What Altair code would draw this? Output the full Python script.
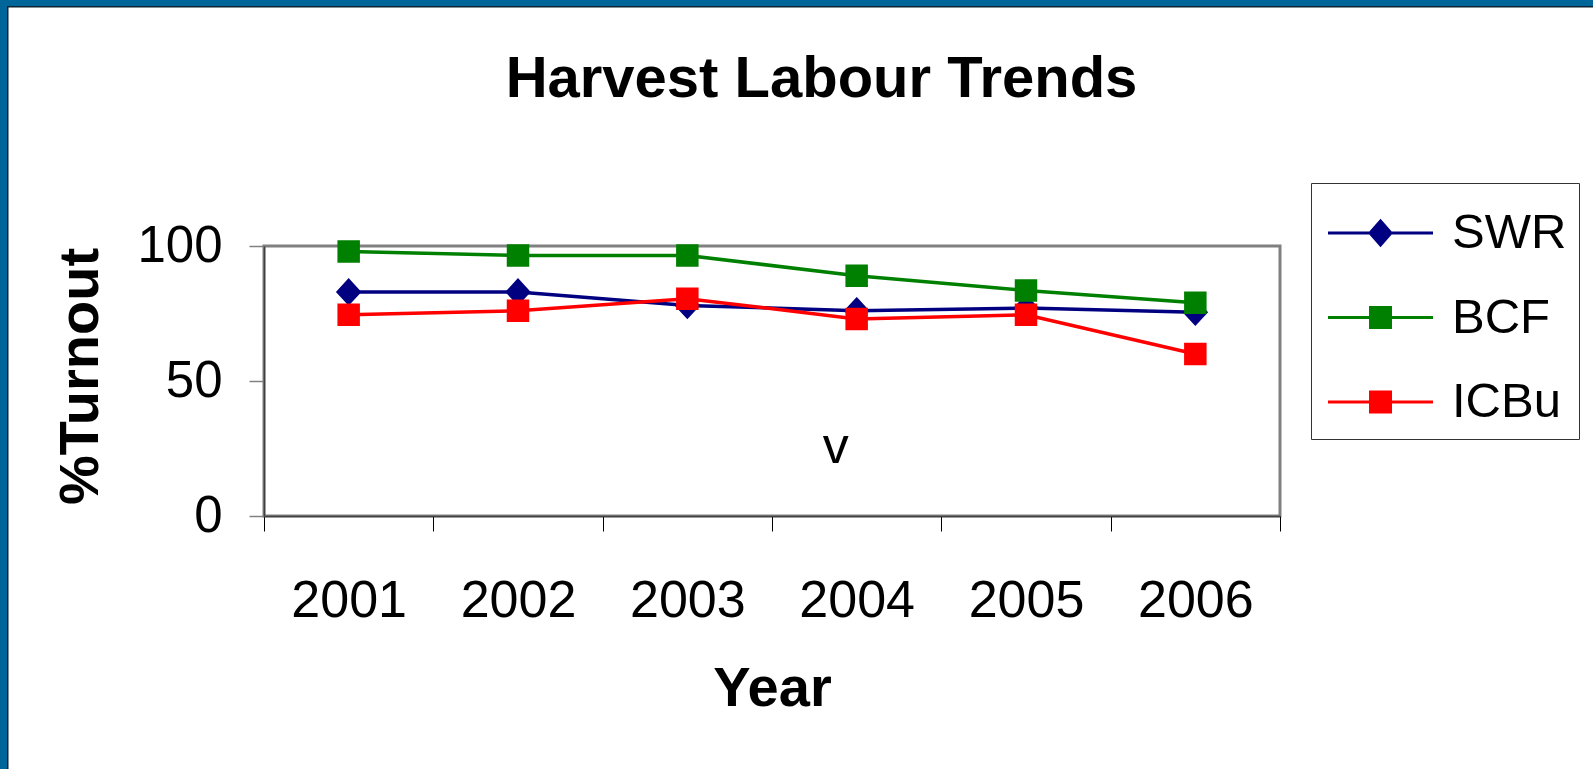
import altair as alt
import pandas as pd

# ---- data ----
years = ["2001", "2002", "2003", "2004", "2005", "2006"]
series = ["SWR", "BCF", "ICBu"]
swr = [83, 83, 78, 76, 77, 75.5]
bcf = [98, 96.5, 96.5, 89, 83.5, 79]
icbu = [74.5, 76, 80.5, 73, 74.5, 60]
colors = ["#000080", "#008000", "#FF0000"]
y_ticks = [0, 50, 100]
note_text = ["v"]
note_year = ["2004"]
note_value = [19.6]

rows = []
for s, vals in zip(series, [swr, bcf, icbu]):
    for yr, v in zip(years, vals):
        rows.append({"Year": yr, "Series": s, "Turnout": v})
df = pd.DataFrame(rows)
note_df = pd.DataFrame({"Year": note_year, "Turnout": note_value, "label": note_text})

# ---- layout ----
TOTAL_W, TOTAL_H = 1593, 769
PL, PT = 264, 246
W, H = 1016, 270
PR, PB = TOTAL_W - PL - W, TOTAL_H - PT - H
FONT = "Liberation Sans"

# marker shapes in plot
diamond_path = "M0,-1.2L1.1,0L0,1.2L-1.1,0Z"

# legend symbols: line + marker (unit coords scaled by sqrt(size)/2 = 30 px)
leg_line = "M-0.883,0H2.617"
leg_diamond = leg_line + "M0.867,-0.4L1.217,0L0.867,0.4L0.517,0Z"
leg_square = leg_line + "M0.534,-0.333H1.2V0.333H0.534Z"
legend_shapes = [leg_diamond, leg_square, leg_square]


def cond_expr(values):
    expr = f"'{values[-1]}'"
    for s, v in reversed(list(zip(series[:-1], values[:-1]))):
        expr = f"datum.value === '{s}' ? '{v}' : {expr}"
    return expr


legend = alt.Legend(
    title=" ",
    titleFontSize=1,
    titlePadding=5.5,
    orient="none",
    legendX=1311 - PL,
    legendY=183 - PT,
    padding=12,
    strokeColor="#333333",
    fillColor="white",
    symbolSize=3600,
    symbolType=alt.ExprRef(cond_expr(legend_shapes)),
    symbolStrokeWidth=3,
    symbolOpacity=1,
    labelFont=FONT,
    labelFontSize=49,
    labelColor="black",
    labelOffset=66,
    rowPadding=27.5,
)

scale_c = alt.Scale(domain=series, range=colors)

x_enc = alt.X(
    "Year:O",
    scale=alt.Scale(type="band", domain=years, paddingInner=0, paddingOuter=0),
    bandPosition=0.5,
    axis=alt.Axis(
        title="Year",
        tickBand="extent",
        labelAngle=0,
        labelFont=FONT,
        labelFontSize=52,
        labelColor="black",
        labelBaseline="alphabetic",
        labelPadding=85,
        labelOverlap=False,
        labelFlush=False,
        tickSize=15,
        tickColor="black",
        tickWidth=1,
        domainColor="#404040",
        domainWidth=1.5,
        titleFont=FONT,
        titleFontSize=56,
        titleFontWeight="bold",
        titleColor="black",
        titleX=W / 2,
        titleY=705 - (PT + H),
        titleBaseline="alphabetic",
        titleAlign="center",
    ),
)
y_enc = alt.Y(
    "Turnout:Q",
    scale=alt.Scale(domain=[0, 100], nice=False),
    axis=alt.Axis(
        title="%Turnout",
        values=y_ticks,
        grid=False,
        labelFont=FONT,
        labelFontSize=51,
        labelColor="black",
        labelPadding=27,
        labelBaseline="middle",
        tickSize=15,
        tickColor="#808080",
        tickWidth=1.5,
        domainColor="#404040",
        domainWidth=1.5,
        titleFont=FONT,
        titleFontSize=56,
        titleFontWeight="bold",
        titleColor="black",
        titleX=97 - PL,
        titleY=376 - PT,
        titleBaseline="alphabetic",
        titleAlign="center",
        titleAngle=270,
    ),
)

base = alt.Chart(df).encode(x=x_enc, y=y_enc)
stroke_nolegend = alt.Stroke("Series:N", scale=scale_c, legend=None)
fill_nolegend = alt.Fill("Series:N", scale=scale_c, legend=None)

lines = base.mark_line(strokeWidth=3.5).encode(stroke=stroke_nolegend)
diamonds = (
    base.transform_filter(alt.FieldOneOfPredicate(field="Series", oneOf=series[:1]))
    .mark_point(filled=True, shape=diamond_path, size=380, opacity=1, strokeWidth=3)
    .encode(stroke=stroke_nolegend, fill=fill_nolegend)
)
squares = (
    base.transform_filter(alt.FieldOneOfPredicate(field="Series", oneOf=series[1:]))
    .mark_point(filled=True, shape="square", size=380, opacity=1, strokeWidth=3)
    .encode(stroke=stroke_nolegend, fill=fill_nolegend)
)
# invisible layer that only carries the legend (line + marker symbols)
legend_layer = base.mark_point(filled=True, opacity=0, size=1, strokeWidth=3).encode(
    stroke=alt.Stroke("Series:N", scale=scale_c, legend=legend),
    fill=alt.Fill("Series:N", scale=scale_c, legend=legend),
)
note = alt.Chart(note_df).mark_text(
    font=FONT, fontSize=52, color="black", baseline="alphabetic", align="center", dx=-21
).encode(x=alt.X("Year:O"), y=alt.Y("Turnout:Q"), text="label:N")

# ---- outer blue frame (top and left edges of the slide) ----
one = pd.DataFrame({"k": [0]})
BLUE, DARK = "#006699", "#0d2233"
frame_top = alt.Chart(one).mark_rule(color=BLUE, strokeWidth=6).encode(
    x=alt.value(-PL), x2=alt.value(TOTAL_W - PL), y=alt.value(3 - PT)
)
frame_top_d = alt.Chart(one).mark_rule(color=DARK, strokeWidth=1.5).encode(
    x=alt.value(7 - PL), x2=alt.value(TOTAL_W - PL), y=alt.value(6.75 - PT)
)
frame_left = alt.Chart(one).mark_rule(color=BLUE, strokeWidth=7).encode(
    x=alt.value(3.5 - PL), y=alt.value(-PT), y2=alt.value(TOTAL_H - PT)
)
frame_left_d = alt.Chart(one).mark_rule(color=DARK, strokeWidth=1.5).encode(
    x=alt.value(7.75 - PL), y=alt.value(6 - PT), y2=alt.value(TOTAL_H - PT)
)

chart = (
    alt.layer(legend_layer, lines, diamonds, squares, note,
              frame_top, frame_top_d, frame_left, frame_left_d)
    .properties(
        width=W,
        height=H,
        title=alt.TitleParams(
            "Harvest Labour Trends",
            font=FONT,
            fontSize=58,
            fontWeight="bold",
            color="black",
            anchor="middle",
            frame="group",
            dx=49.5,
            baseline="alphabetic",
            offset=-158,
        ),
        autosize=alt.AutoSizeParams(type="none"),
        padding={"left": PL, "top": PT, "right": PR, "bottom": PB},
        background="white",
    )
    .configure_view(stroke="#808080", strokeWidth=3)
)

chart.save("out.html", embed_options={"renderer": "svg", "actions": False})
